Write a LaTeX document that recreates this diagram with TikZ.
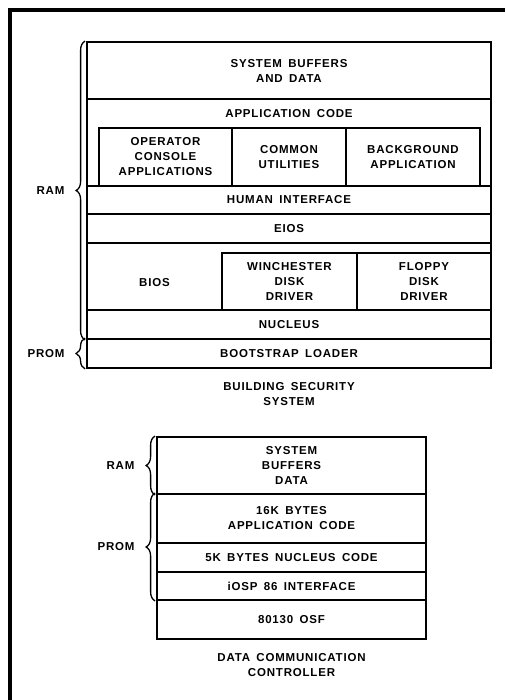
\documentclass[tikz,border=0pt]{standalone}
\usepackage{fontspec}
\setmainfont{Liberation Sans}[LetterSpace=7,WordSpace=1.6]
\usepackage{tikz}
\usetikzlibrary{decorations.pathreplacing,positioning}

\begin{document}
\begin{tikzpicture}[x=1pt,y=-1pt]
	\tikzstyle{layer}=[draw=black,line width=1.8pt,rectangle,align=center,inner sep=0pt,font=\bfseries\fontsize{11.5}{15}\selectfont]
	\tikzstyle{lbl}=[align=center,inner sep=0pt,font=\bfseries\fontsize{11.5}{15}\selectfont]
	\tikzstyle{membrace}=[decorate,decoration={brace,amplitude=9pt},line width=1.3pt]
	\useasboundingbox (0,0) rectangle (505,700);
	\draw[line width=3.4pt] (505,10) -- (10,10) -- (10,700);
	\node[layer,minimum width=404,minimum height=57] (sysbuf) at (289,70.5) {SYSTEM BUFFERS\\AND DATA};
	\node[layer,minimum width=404,minimum height=87] (appcode) at (289,142.5) {};
	\node[lbl] (appcodetxt) at (289,114) {APPLICATION CODE};
	\node[layer,minimum width=133,minimum height=58] (opcon) at (165.5,157) {OPERATOR\\CONSOLE\\APPLICATIONS};
	\node[layer,minimum width=114,minimum height=58] (common) at (289,157) {COMMON\\UTILITIES};
	\node[layer,minimum width=134,minimum height=58] (backgr) at (413,157) {BACKGROUND\\APPLICATION};
	\node[layer,minimum width=404,minimum height=28] (human) at (289,200) {HUMAN INTERFACE};
	\node[layer,minimum width=404,minimum height=29] (eios) at (289,228.5) {EIOS};
	\node[layer,minimum width=404,minimum height=67] (bios) at (289,276.5) {};
	\node[lbl] (biostxt) at (154.5,283) {BIOS};
	\node[layer,minimum width=135,minimum height=57] (winch) at (289.5,281.5) {WINCHESTER\\DISK\\DRIVER};
	\node[layer,minimum width=134,minimum height=57] (floppy) at (424,281.5) {FLOPPY\\DISK\\DRIVER};
	\node[layer,minimum width=404,minimum height=29] (nucleus) at (289,324.5) {NUCLEUS};
	\node[layer,minimum width=404,minimum height=29] (bootstrap) at (289,353.5) {BOOTSTRAP LOADER};
	\node[lbl,below=13pt of bootstrap] (bsscap) {BUILDING SECURITY\\SYSTEM};
	\draw[membrace] ([xshift=-1pt]nucleus.south west) -- node[lbl,left=20pt] (ramtop) {RAM} ([xshift=-1pt]sysbuf.north west);
	\draw[membrace] ([xshift=-1pt]bootstrap.south west) -- node[lbl,left=20pt] (promtop) {PROM} ([xshift=-1pt]bootstrap.north west);
	\node[layer,minimum width=269,minimum height=57] (dcbuf) at (291.5,465.5) {SYSTEM\\BUFFERS\\DATA};
	\node[layer,minimum width=269,minimum height=49] (appk) at (291.5,518.5) {16K BYTES\\APPLICATION CODE};
	\node[layer,minimum width=269,minimum height=29] (nuck) at (291.5,557.5) {5K BYTES NUCLEUS CODE};
	\node[layer,minimum width=269,minimum height=28] (iosp) at (291.5,586) {iOSP 86 INTERFACE};
	\node[layer,minimum width=269,minimum height=39] (osf) at (291.5,619.5) {80130 OSF};
	\node[lbl,below=13pt of osf] (dcccap) {DATA COMMUNICATION\\CONTROLLER};
	\draw[membrace] ([xshift=-1pt]dcbuf.south west) -- node[lbl,left=20pt] (rambot) {RAM} ([xshift=-1pt]dcbuf.north west);
	\draw[membrace] ([xshift=-1pt]iosp.south west) -- node[lbl,left=20pt] (prombot) {PROM} ([xshift=-1pt]appk.north west);
\end{tikzpicture}
\end{document}
